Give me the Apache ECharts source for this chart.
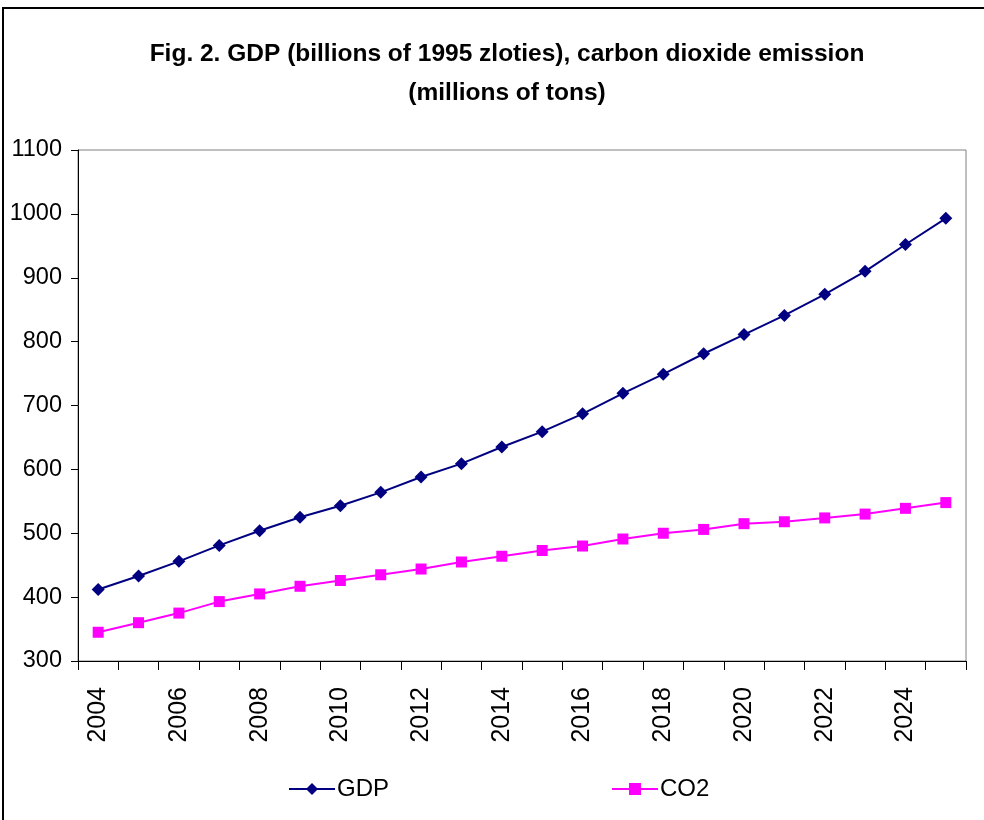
<!DOCTYPE html>
<html>
<head>
<meta charset="utf-8">
<script src="https://cdn.jsdelivr.net/npm/echarts@6/dist/echarts.min.js"></script>
<style>
  html, body { margin: 0; padding: 0; background: #fff; }
  #chart { width: 984px; height: 820px; }
</style>
</head>
<body>
<div id="chart"></div>
<script>
// Years on the category axis
const years = ['2004','2005','2006','2007','2008','2009','2010','2011','2012','2013','2014',
               '2015','2016','2017','2018','2019','2020','2021','2022','2023','2024','2025'];
// GDP, billions of 1995 zloties
const gdp = [412, 433, 456, 481, 504, 525, 543, 564, 588, 609, 635,
             659, 687, 719, 749, 781, 811, 841, 874, 910, 952, 993];
// Carbon dioxide emission, millions of tons
const co2 = [345, 360, 375, 393, 405, 417, 426, 435, 444, 455, 464,
             473, 480, 491, 500, 506, 515, 518, 524, 530, 539, 548];
const yMin = 300, yMax = 1100, yStep = 100;

const font = "'Liberation Sans', Arial, sans-serif";

const chart = echarts.init(document.getElementById('chart'), null, { renderer: 'canvas' });
chart.setOption({
  backgroundColor: '#ffffff',
  animation: false,
  title: {
    text: 'Fig. 2. GDP (billions of 1995 zloties), carbon dioxide emission\n(millions of tons)',
    left: 502,
    top: 30,
    textAlign: 'center',
    textStyle: { fontFamily: font, fontWeight: 'bold', fontSize: 24.5, lineHeight: 39, color: '#000' }
  },
  graphic: [{
    type: 'rect',
    shape: { x: 3, y: 8, width: 1000, height: 830 },
    style: { fill: 'none', stroke: '#000', lineWidth: 2 },
    silent: true
  }],
  legend: {
    left: 283,
    top: 772,
    itemWidth: 46,
    itemHeight: 15,
    itemGap: 222,
    textStyle: { fontFamily: font, fontSize: 24, color: '#000', padding: [0, 0, 0, -3] },
    data: ['GDP', 'CO2']
  },
  grid: { left: 78, right: 18, top: 150, bottom: 159, show: true, borderColor: '#808080', borderWidth: 1, containLabel: false },
  xAxis: {
    type: 'category',
    data: years,
    boundaryGap: true,
    axisLine: { show: true, lineStyle: { color: '#000', width: 1 } },
    axisTick: { show: true, interval: 0, length: 9, lineStyle: { color: '#000' } },
    axisLabel: { interval: 1, rotate: 90, margin: 26, fontFamily: font, fontSize: 25, color: '#000' },
    splitLine: { show: false }
  },
  yAxis: {
    type: 'value',
    min: yMin,
    max: yMax,
    interval: yStep,
    axisLine: { show: true, lineStyle: { color: '#000', width: 1 } },
    axisTick: { show: true, length: 7, lineStyle: { color: '#000' } },
    axisLabel: { margin: 16, fontFamily: font, fontSize: 23.5, color: '#000', formatter: v => String(v) },
    splitLine: { show: false }
  },
  series: [
    {
      name: 'GDP',
      type: 'line',
      data: gdp,
      symbol: 'diamond',
      symbolSize: 13,
      showAllSymbol: true,
      lineStyle: { color: '#000080', width: 2 },
      itemStyle: { color: '#000080', borderWidth: 0 },
      emphasis: { disabled: true }
    },
    {
      name: 'CO2',
      type: 'line',
      data: co2,
      symbol: 'rect',
      symbolSize: 11,
      showAllSymbol: true,
      lineStyle: { color: '#ff00ff', width: 2 },
      itemStyle: { color: '#ff00ff', borderWidth: 0 },
      emphasis: { disabled: true }
    }
  ]
});
</script>
</body>
</html>
